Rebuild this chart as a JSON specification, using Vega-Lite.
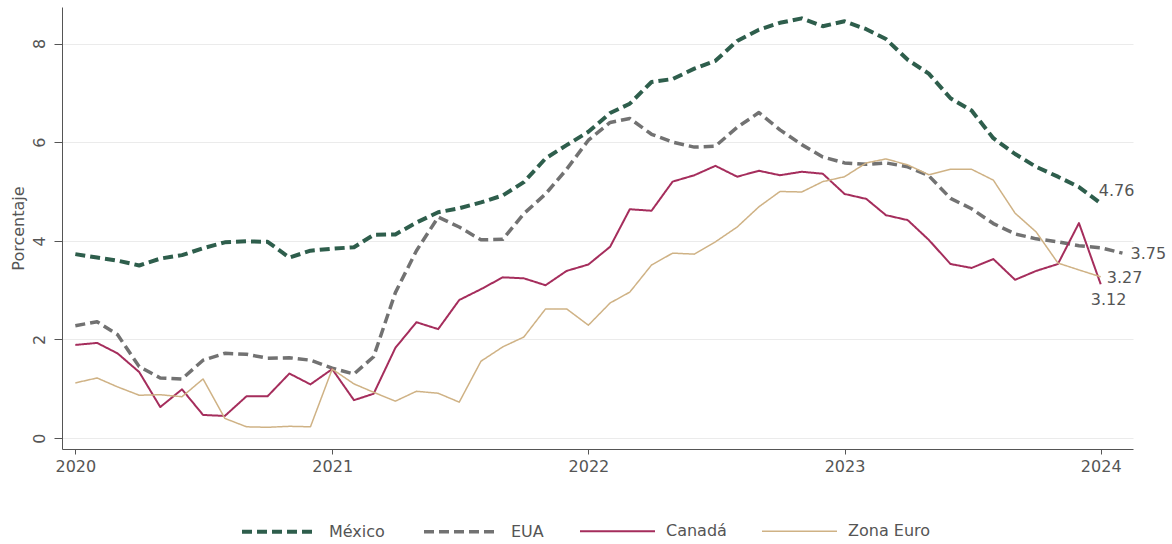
{
  "$schema": "https://vega.github.io/schema/vega-lite/v6.json",
  "width": 1071,
  "height": 442,
  "autosize": "none",
  "padding": {"left": 62, "top": 7, "right": 39, "bottom": 95},
  "background": "white",
  "config": {
    "font": "DejaVu Sans",
    "view": {"stroke": null},
    "axis": {"labelColor": "#555555", "titleColor": "#555555", "domainColor": "#555555", "tickColor": "#555555", "labelFontSize": 16, "titleFontSize": 16, "titleFontWeight": "normal"}
  },
  "data": {
    "values": [
      {"fecha": "2020-01-01", "serie": "México", "valor": 3.73},
      {"fecha": "2020-02-01", "serie": "México", "valor": 3.66},
      {"fecha": "2020-03-01", "serie": "México", "valor": 3.60},
      {"fecha": "2020-04-01", "serie": "México", "valor": 3.50},
      {"fecha": "2020-05-01", "serie": "México", "valor": 3.64},
      {"fecha": "2020-06-01", "serie": "México", "valor": 3.71},
      {"fecha": "2020-07-01", "serie": "México", "valor": 3.85},
      {"fecha": "2020-08-01", "serie": "México", "valor": 3.97},
      {"fecha": "2020-09-01", "serie": "México", "valor": 3.99},
      {"fecha": "2020-10-01", "serie": "México", "valor": 3.98},
      {"fecha": "2020-11-01", "serie": "México", "valor": 3.66},
      {"fecha": "2020-12-01", "serie": "México", "valor": 3.80},
      {"fecha": "2021-01-01", "serie": "México", "valor": 3.84},
      {"fecha": "2021-02-01", "serie": "México", "valor": 3.87},
      {"fecha": "2021-03-01", "serie": "México", "valor": 4.12},
      {"fecha": "2021-04-01", "serie": "México", "valor": 4.13},
      {"fecha": "2021-05-01", "serie": "México", "valor": 4.37},
      {"fecha": "2021-06-01", "serie": "México", "valor": 4.58},
      {"fecha": "2021-07-01", "serie": "México", "valor": 4.66},
      {"fecha": "2021-08-01", "serie": "México", "valor": 4.78},
      {"fecha": "2021-09-01", "serie": "México", "valor": 4.92},
      {"fecha": "2021-10-01", "serie": "México", "valor": 5.19},
      {"fecha": "2021-11-01", "serie": "México", "valor": 5.67},
      {"fecha": "2021-12-01", "serie": "México", "valor": 5.94},
      {"fecha": "2022-01-01", "serie": "México", "valor": 6.21},
      {"fecha": "2022-02-01", "serie": "México", "valor": 6.59},
      {"fecha": "2022-03-01", "serie": "México", "valor": 6.78},
      {"fecha": "2022-04-01", "serie": "México", "valor": 7.22},
      {"fecha": "2022-05-01", "serie": "México", "valor": 7.28},
      {"fecha": "2022-06-01", "serie": "México", "valor": 7.49},
      {"fecha": "2022-07-01", "serie": "México", "valor": 7.65},
      {"fecha": "2022-08-01", "serie": "México", "valor": 8.05},
      {"fecha": "2022-09-01", "serie": "México", "valor": 8.28},
      {"fecha": "2022-10-01", "serie": "México", "valor": 8.42},
      {"fecha": "2022-11-01", "serie": "México", "valor": 8.51},
      {"fecha": "2022-12-01", "serie": "México", "valor": 8.35},
      {"fecha": "2023-01-01", "serie": "México", "valor": 8.45},
      {"fecha": "2023-02-01", "serie": "México", "valor": 8.29},
      {"fecha": "2023-03-01", "serie": "México", "valor": 8.09},
      {"fecha": "2023-04-01", "serie": "México", "valor": 7.67},
      {"fecha": "2023-05-01", "serie": "México", "valor": 7.39},
      {"fecha": "2023-06-01", "serie": "México", "valor": 6.89},
      {"fecha": "2023-07-01", "serie": "México", "valor": 6.64},
      {"fecha": "2023-08-01", "serie": "México", "valor": 6.08},
      {"fecha": "2023-09-01", "serie": "México", "valor": 5.76},
      {"fecha": "2023-10-01", "serie": "México", "valor": 5.50},
      {"fecha": "2023-11-01", "serie": "México", "valor": 5.30},
      {"fecha": "2023-12-01", "serie": "México", "valor": 5.09},
      {"fecha": "2024-01-01", "serie": "México", "valor": 4.76},

      {"fecha": "2020-01-01", "serie": "EUA", "valor": 2.28},
      {"fecha": "2020-02-01", "serie": "EUA", "valor": 2.36},
      {"fecha": "2020-03-01", "serie": "EUA", "valor": 2.10},
      {"fecha": "2020-04-01", "serie": "EUA", "valor": 1.45},
      {"fecha": "2020-05-01", "serie": "EUA", "valor": 1.22},
      {"fecha": "2020-06-01", "serie": "EUA", "valor": 1.20},
      {"fecha": "2020-07-01", "serie": "EUA", "valor": 1.58},
      {"fecha": "2020-08-01", "serie": "EUA", "valor": 1.72},
      {"fecha": "2020-09-01", "serie": "EUA", "valor": 1.70},
      {"fecha": "2020-10-01", "serie": "EUA", "valor": 1.62},
      {"fecha": "2020-11-01", "serie": "EUA", "valor": 1.63},
      {"fecha": "2020-12-01", "serie": "EUA", "valor": 1.58},
      {"fecha": "2021-01-01", "serie": "EUA", "valor": 1.42},
      {"fecha": "2021-02-01", "serie": "EUA", "valor": 1.30},
      {"fecha": "2021-03-01", "serie": "EUA", "valor": 1.65},
      {"fecha": "2021-04-01", "serie": "EUA", "valor": 2.95},
      {"fecha": "2021-05-01", "serie": "EUA", "valor": 3.80},
      {"fecha": "2021-06-01", "serie": "EUA", "valor": 4.48},
      {"fecha": "2021-07-01", "serie": "EUA", "valor": 4.28},
      {"fecha": "2021-08-01", "serie": "EUA", "valor": 4.02},
      {"fecha": "2021-09-01", "serie": "EUA", "valor": 4.03},
      {"fecha": "2021-10-01", "serie": "EUA", "valor": 4.55},
      {"fecha": "2021-11-01", "serie": "EUA", "valor": 4.95},
      {"fecha": "2021-12-01", "serie": "EUA", "valor": 5.45},
      {"fecha": "2022-01-01", "serie": "EUA", "valor": 6.04},
      {"fecha": "2022-02-01", "serie": "EUA", "valor": 6.40},
      {"fecha": "2022-03-01", "serie": "EUA", "valor": 6.48},
      {"fecha": "2022-04-01", "serie": "EUA", "valor": 6.16},
      {"fecha": "2022-05-01", "serie": "EUA", "valor": 6.00},
      {"fecha": "2022-06-01", "serie": "EUA", "valor": 5.90},
      {"fecha": "2022-07-01", "serie": "EUA", "valor": 5.92},
      {"fecha": "2022-08-01", "serie": "EUA", "valor": 6.30},
      {"fecha": "2022-09-01", "serie": "EUA", "valor": 6.60},
      {"fecha": "2022-10-01", "serie": "EUA", "valor": 6.25},
      {"fecha": "2022-11-01", "serie": "EUA", "valor": 5.95},
      {"fecha": "2022-12-01", "serie": "EUA", "valor": 5.70},
      {"fecha": "2023-01-01", "serie": "EUA", "valor": 5.58},
      {"fecha": "2023-02-01", "serie": "EUA", "valor": 5.55},
      {"fecha": "2023-03-01", "serie": "EUA", "valor": 5.58},
      {"fecha": "2023-04-01", "serie": "EUA", "valor": 5.50},
      {"fecha": "2023-05-01", "serie": "EUA", "valor": 5.32},
      {"fecha": "2023-06-01", "serie": "EUA", "valor": 4.86},
      {"fecha": "2023-07-01", "serie": "EUA", "valor": 4.65},
      {"fecha": "2023-08-01", "serie": "EUA", "valor": 4.35},
      {"fecha": "2023-09-01", "serie": "EUA", "valor": 4.14},
      {"fecha": "2023-10-01", "serie": "EUA", "valor": 4.04},
      {"fecha": "2023-11-01", "serie": "EUA", "valor": 3.98},
      {"fecha": "2023-12-01", "serie": "EUA", "valor": 3.90},
      {"fecha": "2024-01-01", "serie": "EUA", "valor": 3.86},
      {"fecha": "2024-02-01", "serie": "EUA", "valor": 3.75},

      {"fecha": "2020-01-01", "serie": "Canadá", "valor": 1.89},
      {"fecha": "2020-02-01", "serie": "Canadá", "valor": 1.93},
      {"fecha": "2020-03-01", "serie": "Canadá", "valor": 1.72},
      {"fecha": "2020-04-01", "serie": "Canadá", "valor": 1.34},
      {"fecha": "2020-05-01", "serie": "Canadá", "valor": 0.63},
      {"fecha": "2020-06-01", "serie": "Canadá", "valor": 0.99},
      {"fecha": "2020-07-01", "serie": "Canadá", "valor": 0.47},
      {"fecha": "2020-08-01", "serie": "Canadá", "valor": 0.45},
      {"fecha": "2020-09-01", "serie": "Canadá", "valor": 0.85},
      {"fecha": "2020-10-01", "serie": "Canadá", "valor": 0.85},
      {"fecha": "2020-11-01", "serie": "Canadá", "valor": 1.31},
      {"fecha": "2020-12-01", "serie": "Canadá", "valor": 1.09},
      {"fecha": "2021-01-01", "serie": "Canadá", "valor": 1.40},
      {"fecha": "2021-02-01", "serie": "Canadá", "valor": 0.77},
      {"fecha": "2021-03-01", "serie": "Canadá", "valor": 0.90},
      {"fecha": "2021-04-01", "serie": "Canadá", "valor": 1.83},
      {"fecha": "2021-05-01", "serie": "Canadá", "valor": 2.35},
      {"fecha": "2021-06-01", "serie": "Canadá", "valor": 2.21},
      {"fecha": "2021-07-01", "serie": "Canadá", "valor": 2.80},
      {"fecha": "2021-08-01", "serie": "Canadá", "valor": 3.02},
      {"fecha": "2021-09-01", "serie": "Canadá", "valor": 3.26},
      {"fecha": "2021-10-01", "serie": "Canadá", "valor": 3.24},
      {"fecha": "2021-11-01", "serie": "Canadá", "valor": 3.10},
      {"fecha": "2021-12-01", "serie": "Canadá", "valor": 3.39},
      {"fecha": "2022-01-01", "serie": "Canadá", "valor": 3.52},
      {"fecha": "2022-02-01", "serie": "Canadá", "valor": 3.88},
      {"fecha": "2022-03-01", "serie": "Canadá", "valor": 4.64},
      {"fecha": "2022-04-01", "serie": "Canadá", "valor": 4.61},
      {"fecha": "2022-05-01", "serie": "Canadá", "valor": 5.20},
      {"fecha": "2022-06-01", "serie": "Canadá", "valor": 5.33},
      {"fecha": "2022-07-01", "serie": "Canadá", "valor": 5.52},
      {"fecha": "2022-08-01", "serie": "Canadá", "valor": 5.30},
      {"fecha": "2022-09-01", "serie": "Canadá", "valor": 5.42},
      {"fecha": "2022-10-01", "serie": "Canadá", "valor": 5.33},
      {"fecha": "2022-11-01", "serie": "Canadá", "valor": 5.40},
      {"fecha": "2022-12-01", "serie": "Canadá", "valor": 5.36},
      {"fecha": "2023-01-01", "serie": "Canadá", "valor": 4.95},
      {"fecha": "2023-02-01", "serie": "Canadá", "valor": 4.85},
      {"fecha": "2023-03-01", "serie": "Canadá", "valor": 4.52},
      {"fecha": "2023-04-01", "serie": "Canadá", "valor": 4.42},
      {"fecha": "2023-05-01", "serie": "Canadá", "valor": 4.02},
      {"fecha": "2023-06-01", "serie": "Canadá", "valor": 3.53},
      {"fecha": "2023-07-01", "serie": "Canadá", "valor": 3.45},
      {"fecha": "2023-08-01", "serie": "Canadá", "valor": 3.63},
      {"fecha": "2023-09-01", "serie": "Canadá", "valor": 3.21},
      {"fecha": "2023-10-01", "serie": "Canadá", "valor": 3.39},
      {"fecha": "2023-11-01", "serie": "Canadá", "valor": 3.53},
      {"fecha": "2023-12-01", "serie": "Canadá", "valor": 4.36},
      {"fecha": "2024-01-01", "serie": "Canadá", "valor": 3.12},

      {"fecha": "2020-01-01", "serie": "Zona Euro", "valor": 1.12},
      {"fecha": "2020-02-01", "serie": "Zona Euro", "valor": 1.22},
      {"fecha": "2020-03-01", "serie": "Zona Euro", "valor": 1.04},
      {"fecha": "2020-04-01", "serie": "Zona Euro", "valor": 0.87},
      {"fecha": "2020-05-01", "serie": "Zona Euro", "valor": 0.88},
      {"fecha": "2020-06-01", "serie": "Zona Euro", "valor": 0.84},
      {"fecha": "2020-07-01", "serie": "Zona Euro", "valor": 1.20},
      {"fecha": "2020-08-01", "serie": "Zona Euro", "valor": 0.40},
      {"fecha": "2020-09-01", "serie": "Zona Euro", "valor": 0.23},
      {"fecha": "2020-10-01", "serie": "Zona Euro", "valor": 0.22},
      {"fecha": "2020-11-01", "serie": "Zona Euro", "valor": 0.24},
      {"fecha": "2020-12-01", "serie": "Zona Euro", "valor": 0.23},
      {"fecha": "2021-01-01", "serie": "Zona Euro", "valor": 1.40},
      {"fecha": "2021-02-01", "serie": "Zona Euro", "valor": 1.10},
      {"fecha": "2021-03-01", "serie": "Zona Euro", "valor": 0.93},
      {"fecha": "2021-04-01", "serie": "Zona Euro", "valor": 0.75},
      {"fecha": "2021-05-01", "serie": "Zona Euro", "valor": 0.95},
      {"fecha": "2021-06-01", "serie": "Zona Euro", "valor": 0.91},
      {"fecha": "2021-07-01", "serie": "Zona Euro", "valor": 0.73},
      {"fecha": "2021-08-01", "serie": "Zona Euro", "valor": 1.56},
      {"fecha": "2021-09-01", "serie": "Zona Euro", "valor": 1.85},
      {"fecha": "2021-10-01", "serie": "Zona Euro", "valor": 2.05},
      {"fecha": "2021-11-01", "serie": "Zona Euro", "valor": 2.62},
      {"fecha": "2021-12-01", "serie": "Zona Euro", "valor": 2.62},
      {"fecha": "2022-01-01", "serie": "Zona Euro", "valor": 2.29},
      {"fecha": "2022-02-01", "serie": "Zona Euro", "valor": 2.74},
      {"fecha": "2022-03-01", "serie": "Zona Euro", "valor": 2.96},
      {"fecha": "2022-04-01", "serie": "Zona Euro", "valor": 3.51},
      {"fecha": "2022-05-01", "serie": "Zona Euro", "valor": 3.75},
      {"fecha": "2022-06-01", "serie": "Zona Euro", "valor": 3.73},
      {"fecha": "2022-07-01", "serie": "Zona Euro", "valor": 3.98},
      {"fecha": "2022-08-01", "serie": "Zona Euro", "valor": 4.28},
      {"fecha": "2022-09-01", "serie": "Zona Euro", "valor": 4.69},
      {"fecha": "2022-10-01", "serie": "Zona Euro", "valor": 5.00},
      {"fecha": "2022-11-01", "serie": "Zona Euro", "valor": 4.99},
      {"fecha": "2022-12-01", "serie": "Zona Euro", "valor": 5.20},
      {"fecha": "2023-01-01", "serie": "Zona Euro", "valor": 5.30},
      {"fecha": "2023-02-01", "serie": "Zona Euro", "valor": 5.58},
      {"fecha": "2023-03-01", "serie": "Zona Euro", "valor": 5.66},
      {"fecha": "2023-04-01", "serie": "Zona Euro", "valor": 5.54},
      {"fecha": "2023-05-01", "serie": "Zona Euro", "valor": 5.34},
      {"fecha": "2023-06-01", "serie": "Zona Euro", "valor": 5.45},
      {"fecha": "2023-07-01", "serie": "Zona Euro", "valor": 5.45},
      {"fecha": "2023-08-01", "serie": "Zona Euro", "valor": 5.23},
      {"fecha": "2023-09-01", "serie": "Zona Euro", "valor": 4.56},
      {"fecha": "2023-10-01", "serie": "Zona Euro", "valor": 4.18},
      {"fecha": "2023-11-01", "serie": "Zona Euro", "valor": 3.55},
      {"fecha": "2023-12-01", "serie": "Zona Euro", "valor": 3.41},
      {"fecha": "2024-01-01", "serie": "Zona Euro", "valor": 3.27}
    ]
  },
  "encoding": {
    "x": {
      "field": "fecha",
      "type": "temporal",
      "scale": {"type": "utc", "domain": [{"year": 2019, "month": 12, "date": 13, "utc": true}, {"year": 2024, "month": 2, "date": 16, "utc": true}]},
      "axis": {
        "title": null,
        "values": [{"year": 2020, "month": 1, "date": 1, "utc": true}, {"year": 2021, "month": 1, "date": 1, "utc": true}, {"year": 2022, "month": 1, "date": 1, "utc": true}, {"year": 2023, "month": 1, "date": 1, "utc": true}, {"year": 2024, "month": 1, "date": 1, "utc": true}],
        "format": "%Y",
        "grid": false,
        "tickSize": 5,
        "labelPadding": 4,
        "labelFontSize": 16,
        "domainWidth": 1
      }
    },
    "y": {
      "field": "valor",
      "type": "quantitative",
      "scale": {"domain": [-0.22, 8.74], "nice": false, "zero": false},
      "axis": {
        "title": "Porcentaje",
        "values": [0, 2, 4, 6, 8],
        "grid": true,
        "gridColor": "#ebebeb",
        "gridWidth": 1,
        "tickSize": 8,
        "labelAngle": 270,
        "labelAlign": "center",
        "labelBaseline": "bottom",
        "labelPadding": 7,
        "labelFontSize": 16,
        "titleFontSize": 16,
        "titleAngle": 270,
        "titleX": -44,
        "titleY": 221,
        "titleAlign": "center",
        "titleBaseline": "middle",
        "domainWidth": 1
      }
    }
  },
  "layer": [
    {
      "mark": {"type": "line", "strokeCap": "butt", "strokeJoin": "round"},
      "encoding": {
        "color": {
          "field": "serie",
          "type": "nominal",
          "scale": {"domain": ["México", "EUA", "Canadá", "Zona Euro"], "range": ["#2e5e4c", "#727272", "#a52d5c", "#cfb285"]},
          "legend": {
            "title": null,
            "orient": "none",
            "legendX": 178,
            "legendY": 485,
            "direction": "horizontal",
            "symbolType": "stroke",
            "symbolSize": 5625,
            "labelFontSize": 16,
            "labelColor": "#555555",
            "labelOffset": 10,
            "columnPadding": 32
          }
        },
        "strokeDash": {
          "field": "serie",
          "type": "nominal",
          "scale": {"domain": ["México", "EUA", "Canadá", "Zona Euro"], "range": [[10, 5], [10, 5], [1, 0], [1, 0]]},
          "legend": {
            "title": null,
            "orient": "none",
            "legendX": 178,
            "legendY": 485,
            "direction": "horizontal",
            "symbolType": "stroke",
            "symbolSize": 5625,
            "labelFontSize": 16,
            "labelColor": "#555555",
            "labelOffset": 10,
            "columnPadding": 32
          }
        },
        "strokeWidth": {
          "field": "serie",
          "type": "nominal",
          "scale": {"type": "ordinal", "domain": ["México", "EUA", "Canadá", "Zona Euro"], "range": [4, 3.5, 2, 1.5]},
          "legend": {
            "title": null,
            "orient": "none",
            "legendX": 178,
            "legendY": 485,
            "direction": "horizontal",
            "symbolType": "stroke",
            "symbolSize": 5625,
            "labelFontSize": 16,
            "labelColor": "#555555",
            "labelOffset": 10,
            "columnPadding": 32
          }
        }
      }
    },
    {
      "transform": [{"filter": "datum.serie === 'México' && utcyear(datum.fecha) === 2024"}],
      "mark": {"type": "text", "align": "left", "baseline": "middle", "dx": -2, "dy": -12, "fontSize": 16, "color": "#555555"},
      "encoding": {"text": {"field": "valor", "type": "quantitative", "format": ".2f"}}
    },
    {
      "transform": [{"filter": "datum.serie === 'EUA' && utcyear(datum.fecha) === 2024 && utcmonth(datum.fecha) === 1"}],
      "mark": {"type": "text", "align": "left", "baseline": "middle", "dx": 8, "dy": 1, "fontSize": 16, "color": "#555555"},
      "encoding": {"text": {"field": "valor", "type": "quantitative", "format": ".2f"}}
    },
    {
      "transform": [{"filter": "datum.serie === 'Zona Euro' && utcyear(datum.fecha) === 2024"}],
      "mark": {"type": "text", "align": "left", "baseline": "middle", "dx": 6, "dy": 1, "fontSize": 16, "color": "#555555"},
      "encoding": {"text": {"field": "valor", "type": "quantitative", "format": ".2f"}}
    },
    {
      "transform": [{"filter": "datum.serie === 'Canadá' && utcyear(datum.fecha) === 2024"}],
      "mark": {"type": "text", "align": "left", "baseline": "middle", "dx": -10, "dy": 16, "fontSize": 16, "color": "#555555"},
      "encoding": {"text": {"field": "valor", "type": "quantitative", "format": ".2f"}}
    }
  ]
}
